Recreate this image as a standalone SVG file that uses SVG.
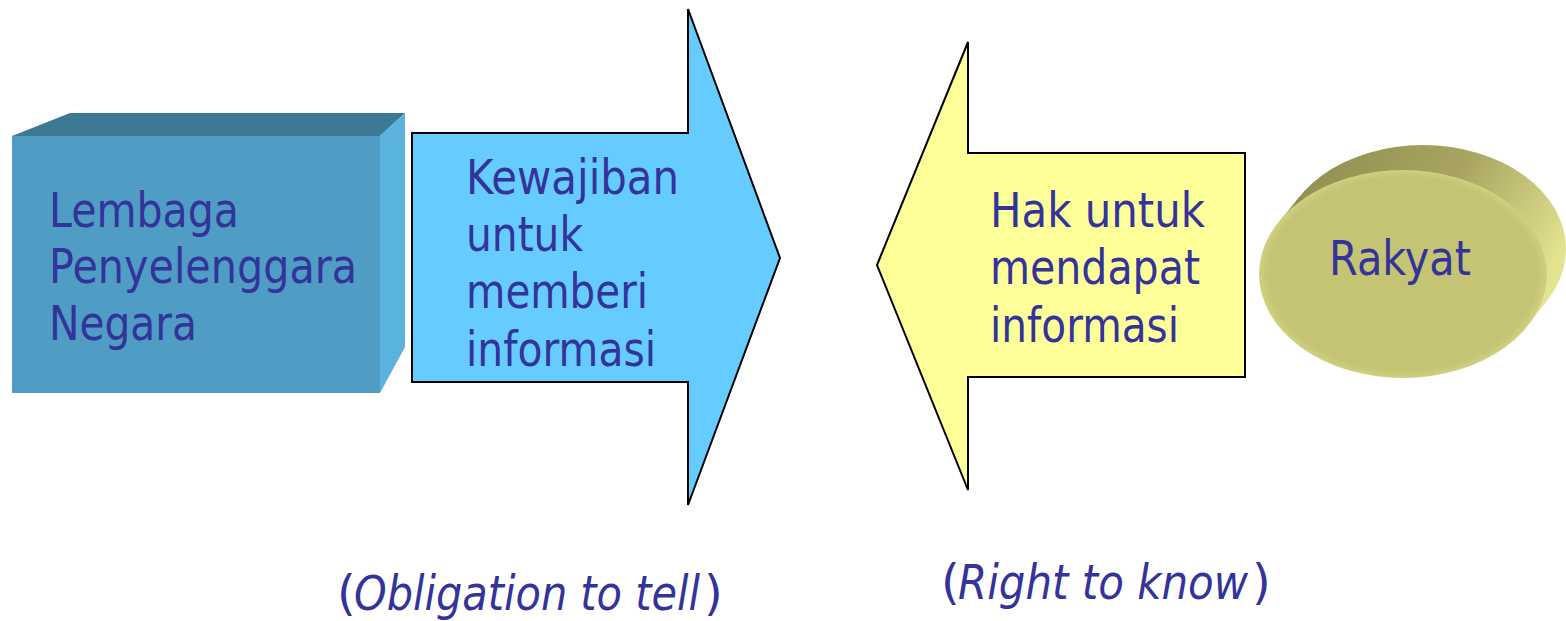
<svg xmlns="http://www.w3.org/2000/svg" width="1566" height="621" viewBox="0 0 1566 621">
<style>
.t{font-family:"DejaVu Sans","Liberation Sans",sans-serif;font-size:48px;fill:#333399}
.arrow{stroke:#000;stroke-width:2;stroke-linejoin:miter}
.it{font-style:italic}
</style>
<defs>
<linearGradient id="side" x1="0" y1="0" x2="1" y2="0.5">
<stop offset="0" stop-color="#8E8A4E"/>
<stop offset="0.55" stop-color="#A8A460"/>
<stop offset="1" stop-color="#E4E490"/>
</linearGradient>
<radialGradient id="face" cx="0.5" cy="0.5" r="0.5">
<stop offset="0.93" stop-color="#C4C474"/>
<stop offset="1" stop-color="#D0D080"/>
</radialGradient>
</defs>
<rect width="1566" height="621" fill="#fff"/>
<g id="node-lembaga">
<polygon points="12,136 70,113 405,113 380,136" fill="#3D7895"/>
<polygon points="380,136 405,113 405,347 380,393" fill="#5AB2DE"/>
<rect x="12" y="136" width="368" height="257" fill="#4F9DC4"/>
<text class="t"><tspan x="49" y="227" textLength="190" lengthAdjust="spacingAndGlyphs">Lembaga</tspan><tspan x="49" y="283" textLength="308" lengthAdjust="spacingAndGlyphs">Penyelenggara</tspan><tspan x="49" y="340" textLength="148" lengthAdjust="spacingAndGlyphs">Negara</tspan></text>
</g>
<g id="connectors">
<g id="arrow-kewajiban">
<polygon class="arrow" points="412,133 688,133 688,9 780,258 688,505 688,382 412,382" fill="#66CCFF"/>
<text class="t"><tspan x="466" y="194" textLength="213" lengthAdjust="spacingAndGlyphs">Kewajiban</tspan><tspan x="466" y="251" textLength="117" lengthAdjust="spacingAndGlyphs">untuk</tspan><tspan x="466" y="308" textLength="182" lengthAdjust="spacingAndGlyphs">memberi</tspan><tspan x="466" y="366" textLength="190" lengthAdjust="spacingAndGlyphs">informasi</tspan></text>
</g>
<g id="arrow-hak">
<polygon class="arrow" points="1245,153 968,153 968,42 877,265 968,490 968,377 1245,377" fill="#FFFF99"/>
<text class="t"><tspan x="990" y="227" textLength="215" lengthAdjust="spacingAndGlyphs">Hak untuk</tspan><tspan x="990" y="284" textLength="210" lengthAdjust="spacingAndGlyphs">mendapat</tspan><tspan x="990" y="342" textLength="189" lengthAdjust="spacingAndGlyphs">informasi</tspan></text>
</g>
</g>
<g id="node-rakyat">
<ellipse cx="1423" cy="249" rx="143" ry="104" fill="url(#side)"/>
<polygon points="1279.4,221.7 1299.4,196.7 1546.6,301.3 1526.6,326.3" fill="url(#side)"/>
<ellipse cx="1403" cy="274" rx="144" ry="104" fill="url(#face)"/>
<text class="t" x="1329" y="275" textLength="142" lengthAdjust="spacingAndGlyphs">Rakyat</text>
</g>
<g id="label-obligation">
<text class="t" y="610"><tspan x="337">(</tspan><tspan class="it" x="354" textLength="346" lengthAdjust="spacingAndGlyphs">Obligation to tell</tspan><tspan x="704">)</tspan></text>
</g>
<g id="label-right">
<text class="t" y="599"><tspan x="941">(</tspan><tspan class="it" x="958" textLength="290" lengthAdjust="spacingAndGlyphs">Right to know</tspan><tspan x="1252">)</tspan></text>
</g>
</svg>
